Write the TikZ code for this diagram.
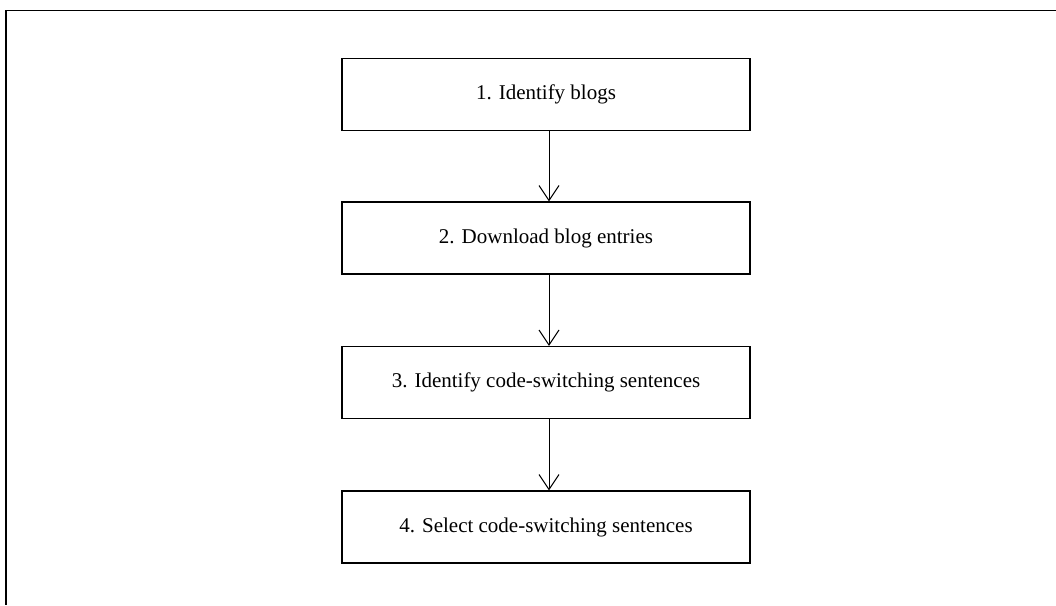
\documentclass[tikz,border=0pt]{standalone}
\usepackage{fontspec}
\setmainfont{Liberation Serif}
\usetikzlibrary{arrows.meta}
\begin{document}
\begin{tikzpicture}[x=1pt,y=-1pt,
  stepbox/.style={draw, line width=1.2pt, minimum width=408pt, minimum height=72pt,
    inner sep=0pt, font=\fontsize{21}{25}\selectfont},
  flow/.style={line width=1pt, -{Straight Barb[length=15pt,width=20pt,line width=1pt]}},
  frame/.style={line width=1.8pt}]
\useasboundingbox (0,0) rectangle (1056,605);
% open frame: top and left edges only
\coordinate (ftl) at (6.3,10.5);
\coordinate (ftr) at (1056,10.5);
\coordinate (fbl) at (6.3,605);
\draw[frame] (ftr) -- (ftl) -- (fbl);
% process steps
\node[stepbox] (b1) at (546,94.5) {1. Identify blogs};
\node[stepbox] (b2) at (546,238) {2. Download blog entries};
\node[stepbox] (b3) at (546,382.5) {3. Identify code-switching sentences};
\node[stepbox] (b4) at (546,527) {4. Select code-switching sentences};
% connectors
\draw[flow] ([xshift=3pt]b1.south) -- ([xshift=3pt]b2.north);
\draw[flow] ([xshift=3pt]b2.south) -- ([xshift=3pt]b3.north);
\draw[flow] ([xshift=3pt]b3.south) -- ([xshift=3pt]b4.north);
\end{tikzpicture}
\end{document}
